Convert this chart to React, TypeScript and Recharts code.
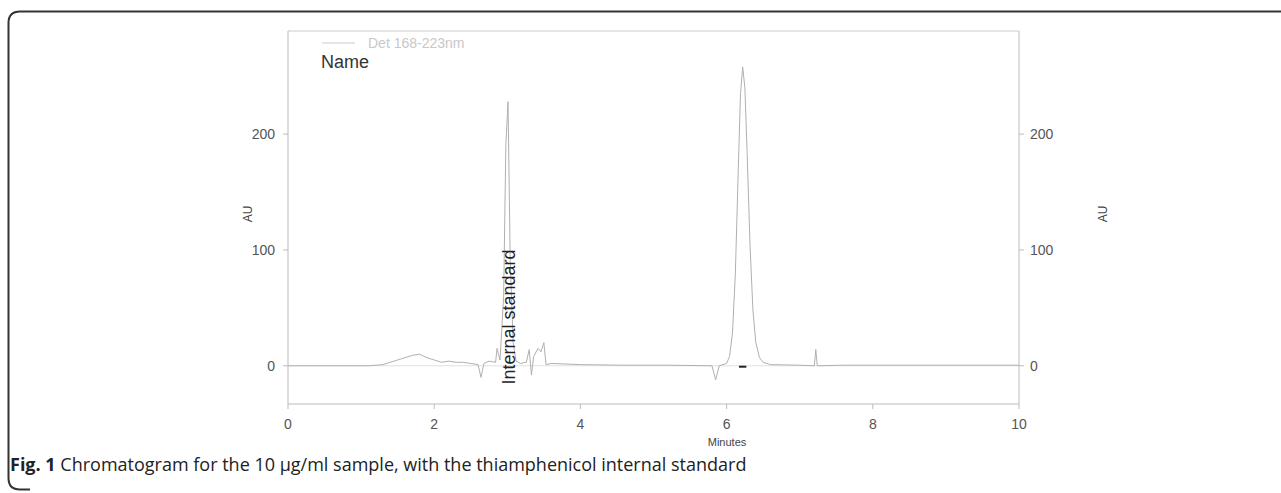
import React from "react";
import { ComposedChart, Line, XAxis, YAxis, ReferenceLine } from "recharts";

const minutes = [0, 1.1, 1.3, 1.4, 1.55, 1.7, 1.8, 1.9, 2.0, 2.1, 2.2, 2.3, 2.4, 2.5, 2.6, 2.64, 2.68, 2.75, 2.84, 2.86, 2.9, 2.95, 2.98, 3.01, 3.04, 3.08, 3.12, 3.18, 3.26, 3.3, 3.33, 3.36, 3.42, 3.46, 3.5, 3.53, 3.6, 4.0, 4.6, 5.2, 5.8, 5.85, 5.9, 6.0, 6.04, 6.08, 6.12, 6.16, 6.19, 6.22, 6.25, 6.28, 6.32, 6.36, 6.4, 6.45, 6.5, 6.6, 7.0, 7.2, 7.22, 7.24, 7.6, 8.5, 10];
const au = [0, 0, 1, 3, 6, 9, 10, 7, 5, 3, 4, 3, 3, 2, 1, -10, 2, 4, 3, 15, 5, 60, 190, 228, 90, 20, 4, 2, 3, 14, -8, 8, 15, 12, 20, 1, 2, 1, 0.5, 0.5, 0, -12, 0, 2, 8, 28, 80, 170, 235, 258, 240, 185, 105, 48, 20, 7, 3, 1, 0.5, 0, 14, 0, 0.5, 0.5, 0.5];

const xTicks = [0, 2, 4, 6, 8, 10];
const yTicks = [0, 100, 200];

const data = minutes.map((m, i) => ({ m, au: au[i] }));

const FONT = "Liberation Sans, Arial, sans-serif";
const tickStyle = { fontSize: 14, fill: "#555", fontFamily: FONT };

export default function App() {
  return (
    <div style={{ position: "absolute", left: 0, top: 0, width: 1281, height: 493, background: "#fff" }}>
      <svg width={1281} height={493} style={{ position: "absolute", left: 0, top: 0 }}>
        <path d="M1281 11.5 L20 11.5 Q8.5 11.5 8.5 23 L8.5 478 Q8.5 489.5 20 489.5 L30 489.5" fill="none" stroke="#333" strokeWidth={2} />
      </svg>
      <div style={{ position: "absolute", left: 0, top: 0 }}>
        <ComposedChart width={1281} height={493} data={data} margin={{ top: 31, left: 248, right: 222, bottom: 59 }}>
          <XAxis
            dataKey="m"
            type="number"
            domain={[0, 10]}
            ticks={xTicks}
            tick={tickStyle}
            tickSize={5}
            tickMargin={10}
            height={30}
            stroke="#bbb"
            tickLine={{ stroke: "#bbb" }}
          />
          <YAxis
            yAxisId="l"
            type="number"
            domain={[-33, 289]}
            ticks={yTicks}
            tick={tickStyle}
            tickSize={5}
            tickMargin={8}
            width={40}
            stroke="#bbb"
            allowDataOverflow
          />
          <YAxis
            yAxisId="r"
            orientation="right"
            type="number"
            domain={[-33, 289]}
            ticks={yTicks}
            tick={tickStyle}
            tickSize={5}
            tickMargin={6}
            width={40}
            stroke="#bbb"
            allowDataOverflow
          />
          <ReferenceLine yAxisId="l" y={289} stroke="#ccc" strokeWidth={1} ifOverflow="extendDomain" />
          <ReferenceLine yAxisId="l" y={0} stroke="#e2e2e2" strokeWidth={1} />
          <ReferenceLine
            yAxisId="l"
            segment={[{ x: 6.17, y: -0.8 }, { x: 6.27, y: -0.8 }]}
            stroke="#222"
            strokeWidth={2}
          />
          <Line
            yAxisId="l"
            type="linear"
            dataKey="au"
            stroke="#b0b0b0"
            strokeWidth={1}
            dot={false}
            isAnimationActive={false}
          />
        </ComposedChart>
      </div>
      <svg width={1281} height={493} style={{ position: "absolute", left: 0, top: 0, pointerEvents: "none" }}>
        <line x1={322} y1={43} x2={355} y2={43} stroke="#ccc" strokeWidth={1} />
        <text x={368} y={48} fontSize={14} fill="#c8c8c8" fontFamily={FONT}>Det 168-223nm</text>
        <text x={321} y={68} fontSize={18} fill="#333" fontFamily={FONT}>Name</text>
        <text x={252} y={214} fontSize={12} fill="#444" fontFamily={FONT} textAnchor="middle" transform="rotate(-90 252 214)">AU</text>
        <text x={1107} y={214} fontSize={12} fill="#444" fontFamily={FONT} textAnchor="middle" transform="rotate(-90 1107 214)">AU</text>
        <text x={727} y={446} fontSize={11} fill="#444" fontFamily={FONT} textAnchor="middle">Minutes</text>
        <text x={515} y={317} fontSize={18} fill="#222" fontFamily={FONT} textAnchor="middle" transform="rotate(-90 515 317)">Internal standard</text>
        <text x={10} y={471} fontSize={18} fill="#222" fontFamily="Open Sans, sans-serif">
          <tspan fontWeight="bold">Fig. 1</tspan>
          <tspan> Chromatogram for the 10 µg/ml sample, with the thiamphenicol internal standard</tspan>
        </text>
      </svg>
    </div>
  );
}
